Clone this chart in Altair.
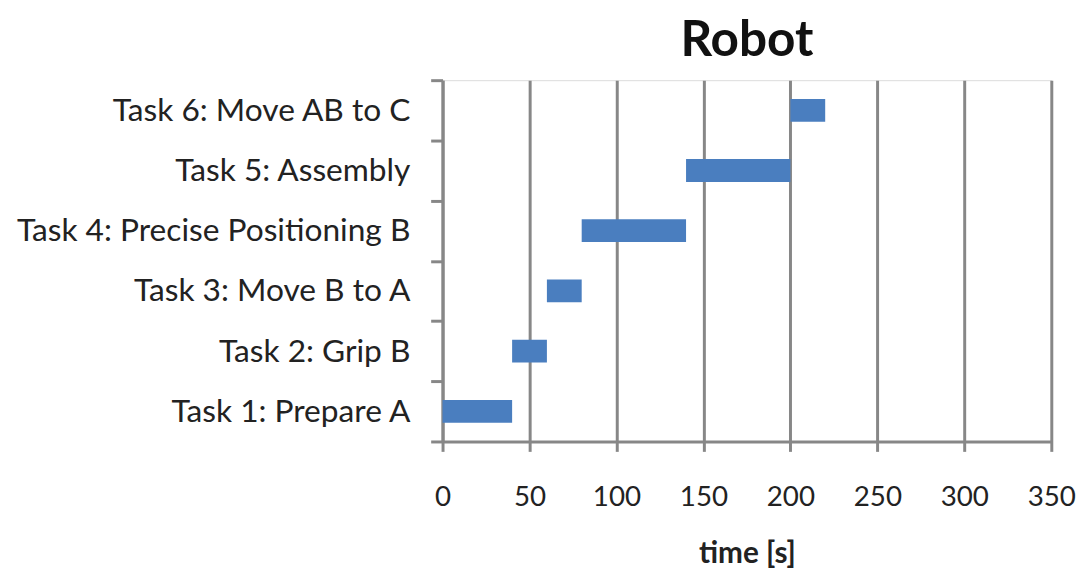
import altair as alt
import pandas as pd

tasks = ["Task 1: Prepare A", "Task 2: Grip B", "Task 3: Move B to A",
         "Task 4: Precise Positioning B", "Task 5: Assembly", "Task 6: Move AB to C"]
starts = [0, 40, 60, 80, 140, 200]
ends = [40, 60, 80, 140, 200, 220]
x_ticks = [0, 50, 100, 150, 200, 250, 300, 350]

df = pd.DataFrame({"task": tasks, "start": starts, "end": ends})

FONT = "Lato"
GRAY = "#878787"

chart = alt.Chart(df).mark_bar(color="#4A7EBF", height=23).encode(
    x=alt.X("start:Q",
            scale=alt.Scale(domain=[0, 350], nice=False, zero=True),
            axis=alt.Axis(values=x_ticks, title="time [s]", grid=True,
                          gridColor=GRAY, gridWidth=3, gridOpacity=1,
                          domainColor=GRAY, domainWidth=3,
                          tickColor=GRAY, tickWidth=3, tickSize=10,
                          labelFont=FONT, labelFontSize=28, labelColor="#222222",
                          labelPadding=33, labelFlush=False,
                          titleFont=FONT, titleFontSize=30, titleFontWeight="bold",
                          titleColor="#222222", titlePadding=27)),
    x2="end:Q",
    y=alt.Y("task:N", sort=list(reversed(tasks)),
            scale=alt.Scale(paddingInner=0, paddingOuter=0),
            axis=alt.Axis(title=None, grid=False, tickBand="extent",
                          domainColor=GRAY, domainWidth=3,
                          tickColor=GRAY, tickWidth=3, tickSize=12,
                          labelFont=FONT, labelFontSize=32, labelColor="#222222",
                          labelPadding=21, labelLimit=0)),
).properties(
    width=615,
    height=365,
    padding={"left": 8, "top": 6, "right": 5, "bottom": 5},
    title=alt.TitleParams("Robot", font=FONT, fontSize=50, fontWeight="bold",
                          color="#111111", anchor="middle", offset=-2,
                          lineHeight=50),
).configure_view(stroke=None).configure(background="white")

chart.save("out.html", embed_options={"renderer": "svg", "actions": False})
